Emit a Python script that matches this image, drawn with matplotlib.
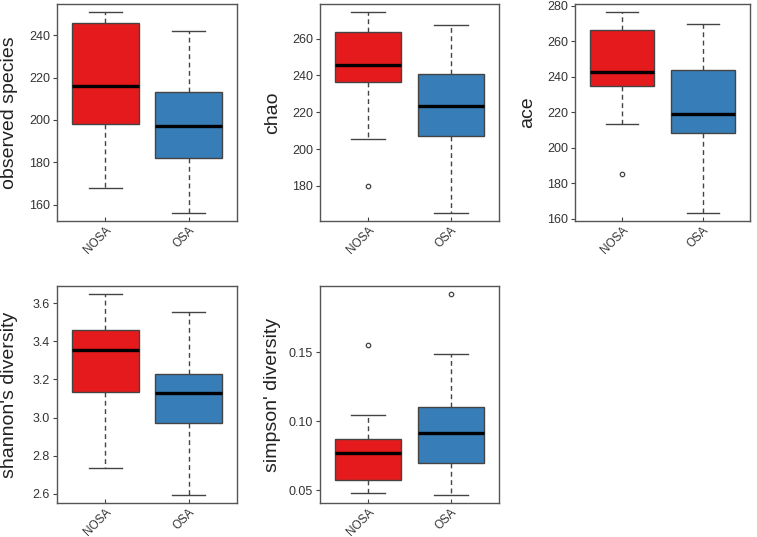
import matplotlib
matplotlib.use("Agg")
import matplotlib.pyplot as plt
from matplotlib.ticker import FormatStrFormatter

plt.rcParams['font.family'] = ['Liberation Sans', 'DejaVu Sans']

groups = ["NOSA", "OSA"]
colors = ["#E41A1C", "#377EB8"]

metrics = ["observed species", "chao", "ace", "shannon's diversity", "simpson' diversity"]

# per metric: [NOSA, OSA]
whislo = {
    "observed species": [168.0, 156.0],
    "chao": [205.3, 165.3],
    "ace": [213.1, 163.2],
    "shannon's diversity": [2.733, 2.593],
    "simpson' diversity": [0.0480, 0.0464],
}
q1 = {
    "observed species": [198.0, 182.0],
    "chao": [236.4, 207.1],
    "ace": [234.9, 208.3],
    "shannon's diversity": [3.132, 2.973],
    "simpson' diversity": [0.0570, 0.0694],
}
med = {
    "observed species": [216.0, 197.0],
    "chao": [245.9, 223.6],
    "ace": [242.4, 219.1],
    "shannon's diversity": [3.353, 3.129],
    "simpson' diversity": [0.0771, 0.0912],
}
q3 = {
    "observed species": [246.0, 213.0],
    "chao": [263.3, 240.8],
    "ace": [266.3, 243.7],
    "shannon's diversity": [3.458, 3.231],
    "simpson' diversity": [0.0873, 0.1105],
}
whishi = {
    "observed species": [251.0, 242.0],
    "chao": [274.4, 267.6],
    "ace": [276.4, 269.5],
    "shannon's diversity": [3.649, 3.553],
    "simpson' diversity": [0.1042, 0.1490],
}
outliers = {
    "observed species": [[], []],
    "chao": [[179.8], []],
    "ace": [[185.0], []],
    "shannon's diversity": [[], []],
    "simpson' diversity": [[0.1553], [0.1923]],
}
yticks = {
    "observed species": [160, 180, 200, 220, 240],
    "chao": [180, 200, 220, 240, 260],
    "ace": [160, 180, 200, 220, 240, 260, 280],
    "shannon's diversity": [2.6, 2.8, 3.0, 3.2, 3.4, 3.6],
    "simpson' diversity": [0.05, 0.10, 0.15],
}
yfmt = {
    "observed species": "%d",
    "chao": "%d",
    "ace": "%d",
    "shannon's diversity": "%.1f",
    "simpson' diversity": "%.2f",
}

W, H = 757, 537
# axes pixel boxes: left, right, top, bottom
boxes_px = [
    (57, 237, 4, 221),
    (320, 499, 4, 221),
    (575, 750, 4, 221),
    (57, 237, 286, 503),
    (320, 499, 286, 503),
]

fig = plt.figure(figsize=(W / 100, H / 100), dpi=100)
edge = "#444444"
for m, (l, r, t, b) in zip(metrics, boxes_px):
    ax = fig.add_axes([l / W, 1 - b / H, (r - l) / W, (b - t) / H])
    stats = []
    for i, g in enumerate(groups):
        stats.append(dict(label=g, whislo=whislo[m][i], q1=q1[m][i], med=med[m][i],
                          q3=q3[m][i], whishi=whishi[m][i], fliers=outliers[m][i]))
    bp = ax.bxp(stats, positions=[1, 2], widths=0.8, capwidths=0.4, patch_artist=True,
                boxprops=dict(edgecolor=edge, linewidth=1.0),
                medianprops=dict(color="black", linewidth=2.4, solid_capstyle='butt'),
                whiskerprops=dict(color=edge, linewidth=1.0, linestyle=(0, (3.5, 2.5))),
                capprops=dict(color=edge, linewidth=1.0),
                flierprops=dict(marker='o', markersize=3.2, markerfacecolor='none',
                                markeredgecolor=edge, markeredgewidth=0.9))
    for patch, c in zip(bp['boxes'], colors):
        patch.set_facecolor(c)
    allv = whislo[m] + whishi[m] + [v for o in outliers[m] for v in o]
    lo, hi = min(allv), max(allv)
    pad = (hi - lo) * 0.04
    ax.set_ylim(lo - pad, hi + pad)
    ax.set_xlim(0.42, 2.58)
    ax.set_yticks(yticks[m])
    ax.yaxis.set_major_formatter(FormatStrFormatter(yfmt[m]))
    ax.set_xticks([1, 2])
    ax.set_xticklabels(groups, rotation=45, ha='right', va='top', rotation_mode='anchor')
    ax.tick_params(axis='y', labelsize=9, colors=edge, labelcolor="#333333",
                   length=3, width=0.8, direction='out', pad=2)
    ax.tick_params(axis='x', labelsize=8.5, colors=edge, labelcolor="#333333",
                   length=3, width=0.8, direction='in', pad=2)
    for s in ax.spines.values():
        s.set_color("#555555")
        s.set_linewidth(1.0)
    ax.set_ylabel(m, fontsize=14, color="#222222")
    ax.yaxis.set_label_coords(-39 / (r - l), 0.5)

fig.savefig("out.png", dpi=100)
